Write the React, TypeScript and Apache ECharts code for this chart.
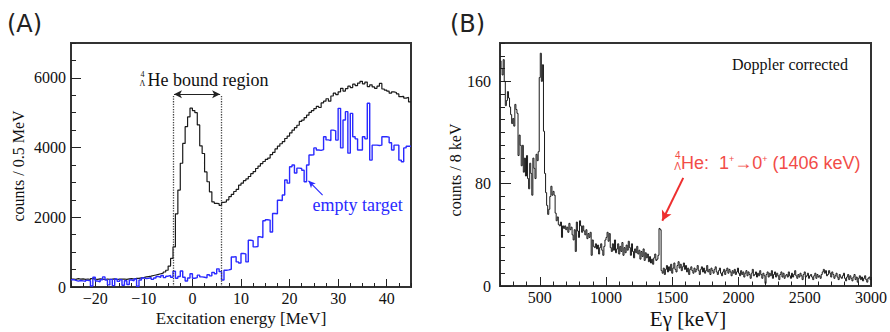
import React, { useEffect, useRef } from 'react';
import * as echarts from 'echarts';

// ---------- Panel A : excitation-energy spectra, 0.5 MeV bins from -25 to 45 MeV ----------
const A_BIN_START = -25;
const A_BIN_WIDTH = 0.5;
// target (black)
const A_TARGET = [
  230, 220, 240, 225, 235, 220, 230, 215, 240, 225,
  220, 235, 225, 215, 230, 220, 225, 235, 215, 225,
  225, 230, 220, 235, 240, 230, 250, 245, 260, 270,
  290, 300, 310, 330, 345, 360, 380, 400, 430, 480,
  600, 820, 1150, 2100, 2780, 3550, 4120, 4600, 4880, 5130,
  5060, 5000, 4650, 4050, 3830, 3300, 3020, 2730, 2440, 2400,
  2390, 2340, 2430, 2440, 2500, 2590, 2660, 2740, 2800, 2920,
  2980, 3050, 3100, 3170, 3250, 3310, 3400, 3470, 3540, 3600,
  3660, 3700, 3800, 3860, 3960, 4040, 4110, 4170, 4260, 4330,
  4420, 4500, 4570, 4640, 4750, 4790, 4860, 4930, 5010, 5060,
  5120, 5180, 5150, 5280, 5330, 5400, 5330, 5480, 5560, 5520,
  5600, 5700, 5620, 5690, 5760, 5720, 5820, 5780, 5850, 5900,
  5830, 5880, 5750, 5800, 5740, 5700, 5760, 5840, 5680, 5650,
  5620, 5560, 5600, 5580, 5540, 5460, 5470, 5420, 5440, 5310,
];
// empty target (blue)
const A_EMPTY = [
  210, 190, 170, 185, 175, 165, 190, 180, 30, 280,
  170, 150, 210, 290, 200, 60, 220, 40, 230, 160,
  210, 50, 180, 70, 200, 180, 230, 20, 200, 260,
  240, 250, 270, 220, 260, 300, 280, 330, 270, 310,
  330, 280, 450, 250, 300, 460, 280, 170, 260, 380,
  250, 270, 340, 290, 280, 260, 350, 320, 420, 380,
  520, 440, 200, 480, 490, 510, 860, 870, 720, 690,
  960, 950, 720, 1340, 1330, 1150, 1160, 1440, 1420, 1900,
  1930, 1920, 1580, 2110, 2100, 2490, 2480, 2640, 3070, 2980,
  3450, 3500, 3270, 3410, 3400, 3350, 3020, 3500, 3785, 3790,
  3990, 3930, 3920, 3940, 4310, 4220, 4200, 4500, 4480, 4215,
  5125, 3990, 4790, 5030, 3840, 4980, 4310, 4250, 3930, 3930,
  4310, 4250, 5270, 3640, 4070, 4070, 4060, 4070, 4310, 4310,
  4300, 4140, 3930, 4070, 4070, 3640, 3595, 3990, 4040, 4040,
];
const A_X_TICKS = [-20, -10, 0, 10, 20, 30, 40];
const A_Y_TICKS = [0, 2000, 4000, 6000];
const A_BOUND_REGION = [-4, 6];

// ---------- Panel B : gamma-ray spectrum, 8 keV bins from 200 to 3000 keV ----------
const B_BIN_START = 200;
const B_BIN_WIDTH = 8;
const B_COUNTS = [
  176, 170, 165, 177, 160, 141, 145, 152, 147, 140,
  134, 127, 131, 125, 142, 138, 135, 102, 118, 110,
  94, 110, 89, 100, 86, 102, 84, 76, 96, 88,
  71, 100, 92, 84, 103, 98, 105, 163, 182, 160,
  173, 121, 88, 73, 63, 56, 60, 70, 78, 71,
  74, 71, 57, 51, 54, 48, 47, 50, 38, 47,
  45, 47, 44, 46, 42, 49, 44, 46, 40, 36,
  44, 27, 50, 43, 38, 51, 47, 42, 47, 43,
  40, 44, 37, 41, 38, 42, 24, 36, 31, 30,
  33, 29, 32, 25, 30, 33, 28, 24, 31, 36,
  38, 42, 35, 41, 30, 27, 33, 28, 36, 26,
  29, 33, 25, 31, 27, 34, 24, 30, 26, 32,
  28, 35, 30, 24, 33, 27, 22, 29, 26, 31,
  25, 28, 21, 27, 23, 29, 20, 26, 22, 25,
  19, 23, 18, 21, 17, 22, 25, 20, 21, 24,
  45, 44, 12, 10, 14, 9, 13, 16, 11, 15,
  12, 17, 10, 14, 18, 13, 11, 16, 19, 14,
  17, 12, 15, 18, 13, 16, 11, 14, 9, 13,
  15, 12, 10, 14, 11, 13, 16, 12, 9, 13,
  15, 11, 14, 10, 12, 16, 11, 13, 9, 14,
  12, 10, 13, 15, 11, 9, 12, 14, 10, 8,
  11, 13, 9, 12, 14, 10, 13, 11, 8, 12,
  10, 13, 9, 11, 14, 10, 8, 12, 9, 11,
  7, 10, 12, 8, 11, 9, 6, 10, 13, 8,
  9, 11, 7, 10, 8, 12, 9, 6, 10, 8,
  2, 9, 11, 7, 10, 8, 12, 6, 9, 11,
  7, 10, 8, 5, 9, 11, 7, 10, 6, 8,
  9, 7, 11, 8, 6, 10, 7, 9, 12, 8,
  6, 9, 7, 10, 8, 5, 9, 11, 7, 8,
  10, 6, 8, 9, 7, 5, 8, 10, 6, 9,
  7, 8, 6, 9, 11, 13, 10, 12, 8, 9,
  12, 10, 7, 11, 9, 6, 8, 10, 7, 5,
  9, 7, 6, 8, 10, 6, 4, 7, 9, 5,
  8, 6, 4, 7, 9, 5, 7, 3, 6, 8,
  5, 7, 4, 6, 8, 5, 3, 6, 7, 5,
];
const B_X_TICKS = [500, 1000, 1500, 2000, 2500, 3000];
const B_Y_TICKS = [0, 80, 160];
const B_LINE_ENERGY = 1406;

// ---------- helpers ----------
function histPoints(start: number, width: number, values: number[]) {
  const pts = values.map((v, i) => [start + i * width, v]);
  pts.push([start + values.length * width, values[values.length - 1]]);
  return pts;
}
function steps(from: number, to: number, step: number) {
  const out: number[] = [];
  for (let v = from; v <= to + 1e-9; v += step) out.push(Math.round(v * 1000) / 1000);
  return out;
}

const SERIF_NAME = 'Liberation Serif';
const SERIF = '"Liberation Serif", "Times New Roman", serif';
const SANS = '"Liberation Sans", Arial, sans-serif';
const TICK_COLOR = '#222';
const plainFmt = (v: number) => (v < 0 ? '\u2212' + Math.abs(v) : String(v));

function mainAxis(gridIndex: number, min: number, max: number, ticks: number[], len: number, margin: number, position: string) {
  return {
    type: 'value', gridIndex, min, max, position,
    axisLine: { show: false, onZero: false },
    splitLine: { show: false },
    axisTick: { show: true, inside: true, length: len, customValues: ticks, lineStyle: { color: TICK_COLOR, width: 1 } },
    axisLabel: {
      show: true, customValues: ticks, margin, formatter: plainFmt,
      fontFamily: SERIF_NAME, fontSize: 16, color: '#111',
      textStyle: { fontFamily: SERIF_NAME, fontSize: 16, color: '#111' },
    },
  };
}
function minorAxis(gridIndex: number, min: number, max: number, ticks: number[], len: number, position: string) {
  return {
    type: 'value', gridIndex, min, max, position,
    axisLine: { show: false, onZero: false },
    splitLine: { show: false },
    axisTick: { show: true, inside: true, length: len, customValues: ticks, lineStyle: { color: TICK_COLOR, width: 1 } },
    axisLabel: { show: false },
  };
}
function txt(x: number, y: number, text: string, font: string, fill = '#111', align = 'left', rotation = 0, rich?: any) {
  return {
    type: 'text', x, y, rotation, silent: true, z: 100,
    style: { text, font, fill, align, verticalAlign: 'middle', textAlign: align, textVerticalAlign: 'middle', rich },
  };
}

export default function App() {
  const ref = useRef<HTMLDivElement>(null);
  useEffect(() => {
    document.body.style.margin = '0';
    if (!ref.current) return;
    const chart = echarts.init(ref.current, undefined, { renderer: 'svg' });

    const A_X_MINOR = steps(-25, 45, 2.5);
    const A_Y_MINOR = steps(0, 7000, 500);
    const B_X_MINOR = steps(200, 3000, 100);
    const B_Y_MINOR = steps(0, 190, 10);

    const red = '#f24c48';
    const blue = '#2a2aff';

    const option: any = {
      animation: false,
      textStyle: { fontFamily: SERIF_NAME },
      grid: [
        { left: 71, top: 43, width: 340, height: 244, show: true, borderColor: '#333', borderWidth: 2, backgroundColor: 'transparent', outerBoundsMode: 'none', containLabel: false },
        { left: 500, top: 43, width: 371, height: 243, show: true, borderColor: '#333', borderWidth: 2, backgroundColor: 'transparent', outerBoundsMode: 'none', containLabel: false },
      ],
      xAxis: [
        mainAxis(0, -25, 45, A_X_TICKS, 8, 3, 'bottom'),
        minorAxis(0, -25, 45, A_X_MINOR, 4, 'bottom'),
        mainAxis(1, 200, 3000, B_X_TICKS, 9, 3, 'bottom'),
        minorAxis(1, 200, 3000, B_X_MINOR, 4.5, 'bottom'),
      ],
      yAxis: [
        mainAxis(0, 0, 7000, A_Y_TICKS, 10, 5, 'left'),
        minorAxis(0, 0, 7000, A_Y_MINOR, 5, 'left'),
        mainAxis(1, 0, 190, B_Y_TICKS, 11, 9, 'left'),
        minorAxis(1, 0, 190, B_Y_MINOR, 5, 'left'),
      ],
      series: [
        {
          name: 'target', type: 'line', xAxisIndex: 0, yAxisIndex: 0, step: 'end',
          data: histPoints(A_BIN_START, A_BIN_WIDTH, A_TARGET),
          showSymbol: false, symbol: 'none', z: 3,
          lineStyle: { color: '#1a1a1a', width: 1.2 },
          markLine: {
            silent: true, animation: false, label: { show: false },
            symbol: ['none', 'none'],
            data: [
              [
                { coord: [A_BOUND_REGION[0], 0], lineStyle: { type: 'dotted', color: '#444', width: 1.3 } },
                { coord: [A_BOUND_REGION[0], 5510] },
              ],
              [
                { coord: [A_BOUND_REGION[1], 0], lineStyle: { type: 'dotted', color: '#444', width: 1.3 } },
                { coord: [A_BOUND_REGION[1], 5510] },
              ],
              [
                { coord: [A_BOUND_REGION[0] + 0.2, 5530], symbol: 'arrow', symbolSize: [6, 8], lineStyle: { type: 'solid', color: '#222', width: 1.2 } },
                { coord: [A_BOUND_REGION[1] - 0.3, 5530], symbol: 'arrow', symbolSize: [6, 8] },
              ],
            ],
          },
        },
        {
          name: 'empty target', type: 'line', xAxisIndex: 0, yAxisIndex: 0, step: 'end',
          data: histPoints(A_BIN_START, A_BIN_WIDTH, A_EMPTY),
          showSymbol: false, symbol: 'none', z: 4,
          lineStyle: { color: blue, width: 1.4 },
          markLine: {
            silent: true, animation: false, label: { show: false },
            data: [
              [
                { coord: [26.8, 2635], symbol: 'none', lineStyle: { type: 'solid', color: blue, width: 1.2 } },
                { coord: [23.9, 3046], symbol: 'arrow', symbolSize: [5, 7] },
              ],
            ],
          },
        },
        {
          name: 'gamma', type: 'line', xAxisIndex: 2, yAxisIndex: 2, step: 'end',
          data: histPoints(B_BIN_START, B_BIN_WIDTH, B_COUNTS),
          showSymbol: false, symbol: 'none', z: 3,
          lineStyle: { color: '#1a1a1a', width: 1 },
          markLine: {
            silent: true, animation: false, label: { show: false },
            data: [
              [
                { coord: [B_LINE_ENERGY + 177, 84.5], symbol: 'none', lineStyle: { type: 'solid', color: '#ee2f2f', width: 2 } },
                { coord: [B_LINE_ENERGY + 19, 51], symbol: 'arrow', symbolSize: [8, 10] },
              ],
            ],
          },
        },
      ],
      graphic: [
        txt(7, 24, '(A)', '24px "DejaVu Sans", sans-serif', '#222'),
        txt(450, 24, '(B)', '24px "DejaVu Sans", sans-serif', '#222'),
        // panel A annotations
        txt(142.5, 74, '4', `8px ${SERIF}`, '#111', 'center'),
        txt(142.5, 83.5, '\u039B', `8px ${SERIF}`, '#111', 'center'),
        txt(147.5, 79.5, 'He bound region', `18px ${SERIF}`),
        txt(312.5, 204.5, 'empty target', `18px ${SERIF}`, blue),
        txt(18, 166, 'counts / 0.5 MeV', `16px ${SERIF}`, '#111', 'center', Math.PI / 2),
        txt(241, 318.5, 'Excitation energy [MeV]', `17px ${SERIF}`, '#111', 'center'),
        // panel B annotations
        txt(732, 64.5, 'Doppler corrected', `16px ${SERIF}`),
        txt(677.8, 155, '4', `10px ${SANS}`, red, 'center'),
        txt(677.5, 166, '\u039B', `10px ${SANS}`, red, 'center'),
        txt(681, 163, '{m|He:  1}{s|+}{m|\u21920}{s|+}{m| (1406 keV)}', `18px ${SANS}`, red, 'left', 0, {
          m: { fontSize: 18, fontFamily: SANS, fill: red },
          s: { fontSize: 9, fontFamily: SANS, fill: red, verticalAlign: 'top' },
        }),
        txt(455, 170, 'counts / 8 keV', `16px ${SERIF}`, '#111', 'center', Math.PI / 2),
        txt(688, 318.5, 'E\u03B3 [keV]', `21px ${SERIF}`, '#111', 'center'),
      ],
    };
    chart.setOption(option);
    return () => chart.dispose();
  }, []);
  return <div ref={ref} style={{ width: 890, height: 332 }} />;
}
